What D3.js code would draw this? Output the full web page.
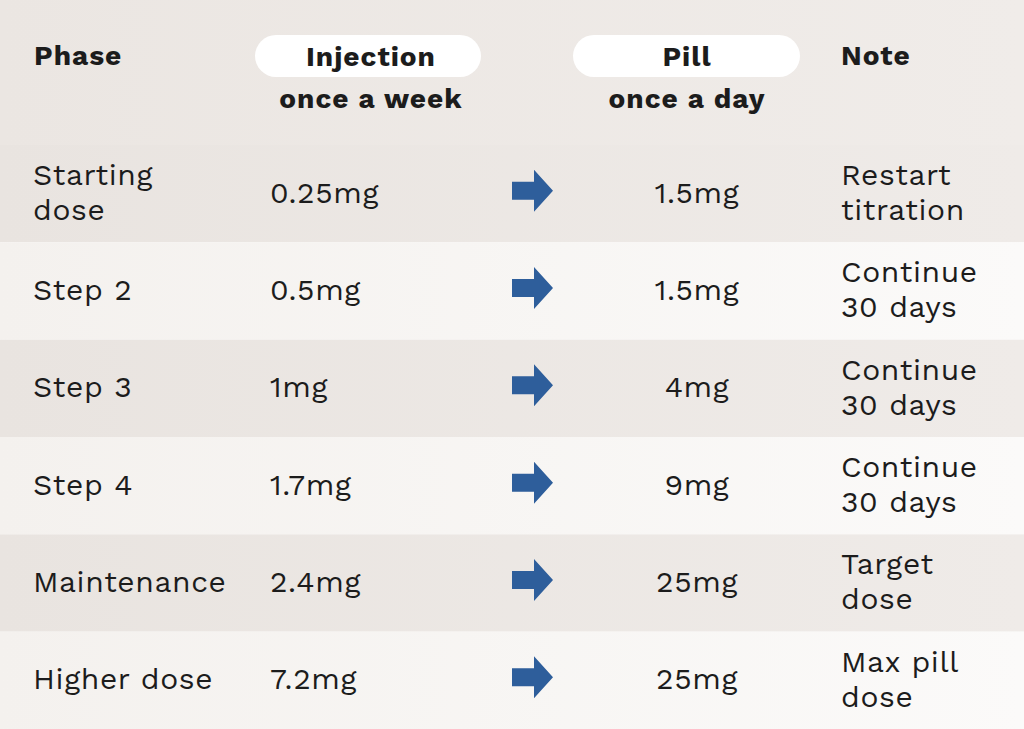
<!DOCTYPE html>
<html><head><meta charset="utf-8">
<script src="https://cdn.jsdelivr.net/npm/d3@7"></script>
<style>body{margin:0;background:#fff}svg{display:block}</style>
</head><body>
<script>
const phases=["Starting\ndose","Step 2","Step 3","Step 4","Maintenance","Higher dose"];
const injection=["0.25mg","0.5mg","1mg","1.7mg","2.4mg","7.2mg"];
const pill=["1.5mg","1.5mg","4mg","9mg","25mg","25mg"];
const notes=["Restart\ntitration","Continue\n30 days","Continue\n30 days","Continue\n30 days","Target\ndose","Max pill\ndose"];
const W=1024,H=729;
const svg=d3.select("body").append("svg").attr("width",W).attr("height",H);
const defs=svg.append("defs");
function grad(id,c1,c2){const g=defs.append("linearGradient").attr("id",id);g.append("stop").attr("offset","0%").attr("stop-color",c1);g.append("stop").attr("offset","100%").attr("stop-color",c2);}
grad("dark","#e9e4e0","#efebe8");grad("light","#f4f1ee","#fbfaf9");grad("head","#ebe6e2","#f0ece9");
svg.append("rect").attr("width",W).attr("height",145).attr("fill","url(#head)");
const y=d3.scaleBand().domain(d3.range(phases.length)).range([145,729]);
const font="'Work Sans','Open Sans',sans-serif",ink="#1c1c1c";
const rows=svg.selectAll("g.r").data(phases).join("g").attr("transform",(d,i)=>`translate(0,${y(i)})`);
rows.append("rect").attr("width",W).attr("height",y.bandwidth()).attr("fill",(d,i)=>i%2?"url(#light)":"url(#dark)");
function multi(sel,x,accessor,anchor){
 sel.append("text").attr("x",x).attr("font-family",font).attr("font-size",30).attr("letter-spacing",0.6).attr("fill",ink).attr("text-anchor",anchor||"start")
 .each(function(d,i){const lines=accessor(d,i).split("\n");const t=d3.select(this);const c=y.bandwidth()/2;
   lines.forEach((l,k)=>t.append("tspan").attr("x",x).attr("y",c+9+(k-(lines.length-1)/2)*35).text(l));});
}
multi(rows,33,d=>d);
multi(rows,270,(d,i)=>injection[i]);
multi(rows,697,(d,i)=>pill[i],"middle");
multi(rows,841,(d,i)=>notes[i]);
rows.append("path").attr("transform",`translate(512,${y.bandwidth()/2-3})`)
 .attr("d","M0,-9 L22,-9 L22,-21 L41,0 L22,21 L22,9 L0,9 Z").attr("fill","#2e5e9b");
const hb=s=>s.attr("font-family",font).attr("font-weight",700).attr("font-size",28).attr("letter-spacing",1).attr("fill",ink);
hb(svg.append("text").attr("x",34).attr("y",65).text("Phase"));
hb(svg.append("text").attr("x",841).attr("y",65).text("Note"));
const hp=[{x:255,w:226,c:371,t:"Injection",s:"once a week"},{x:573,w:227,c:687,t:"Pill",s:"once a day"}];
hp.forEach(h=>{
 svg.append("rect").attr("x",h.x).attr("y",35).attr("width",h.w).attr("height",42).attr("rx",21).attr("fill","#fff");
 hb(svg.append("text").attr("x",h.c).attr("y",66).attr("text-anchor","middle").text(h.t));
 hb(svg.append("text").attr("x",h.c).attr("y",108).attr("text-anchor","middle").text(h.s));
});
</script>
</body></html>
